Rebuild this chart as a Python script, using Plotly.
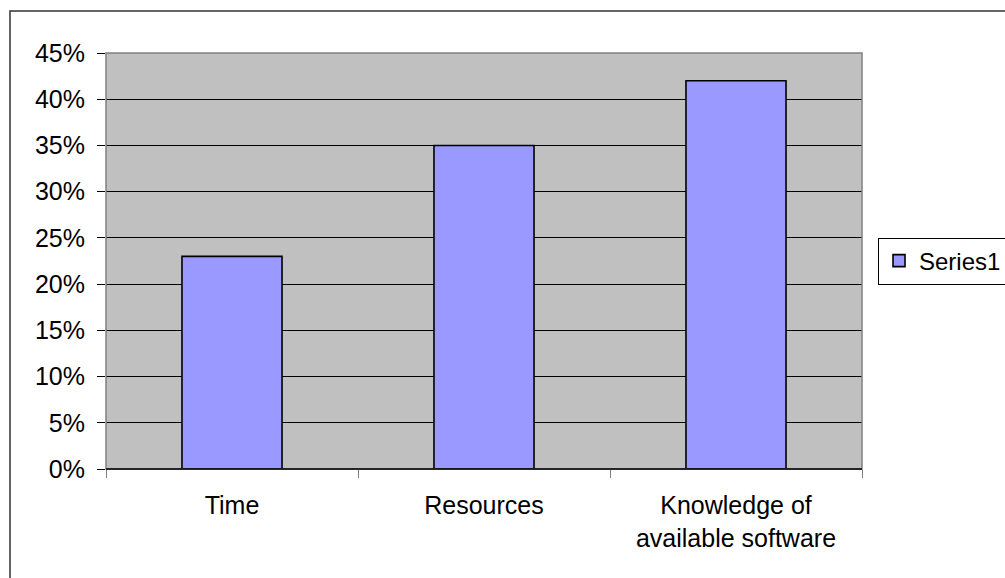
import plotly.graph_objects as go

# Chart data
categories = ["Time", "Resources", "Knowledge of<br>available software"]
values = [0.23, 0.35, 0.42]
series_name = "Series1"

FONT = "Arial, Liberation Sans, sans-serif"
W, H = 1005, 578
L, R, T, B = 106, 143, 53, 109
plot_w = W - L - R
plot_h = H - T - B

fig = go.Figure(
    go.Bar(
        x=categories,
        y=values,
        name=series_name,
        marker=dict(color="#9999FF", line=dict(color="#000000", width=1.6)),
        showlegend=True,
    )
)

fig.update_layout(
    width=W,
    height=H,
    margin=dict(l=L, r=R, t=T, b=B, autoexpand=False),
    paper_bgcolor="#FFFFFF",
    plot_bgcolor="#C0C0C0",
    bargap=0.603,
    font=dict(family=FONT, size=25, color="#000000"),
    showlegend=True,
    legend=dict(
        x=(878 - L) / plot_w,
        y=0.5,
        xanchor="left",
        yanchor="middle",
        bgcolor="#FFFFFF",
        bordercolor="#000000",
        borderwidth=1,
        font=dict(family=FONT, size=24, color="#000000"),
    ),
    xaxis=dict(
        showgrid=False,
        showline=False,
        ticks="outside",
        tickson="boundaries",
        ticklen=8,
        tickcolor="#808080",
        tickwidth=1,
        tickfont=dict(family=FONT, size=25, color="#000000"),
        ticklabelstandoff=19,
        zeroline=False,
    ),
    yaxis=dict(
        range=[0, 0.45],
        dtick=0.05,
        tick0=0,
        tickformat=".0%",
        showgrid=True,
        gridcolor="#000000",
        gridwidth=1,
        showline=False,
        zeroline=False,
        ticks="outside",
        ticklen=8,
        tickcolor="#000000",
        tickwidth=1,
        tickfont=dict(family=FONT, size=25, color="#000000"),
        ticklabelstandoff=7,
    ),
    shapes=[
        # plot area frame
        dict(type="rect", xref="paper", yref="paper", x0=0, x1=1, y0=0, y1=1,
             line=dict(color="#808080", width=1.5), layer="above"),
        # category axis baseline
        dict(type="line", xref="paper", yref="paper", x0=0, x1=1, y0=0, y1=0,
             line=dict(color="#000000", width=1.5), layer="above"),
        # outer chart border
        dict(type="rect", xref="paper", yref="paper",
             x0=(10 - L) / plot_w, x1=2.0,
             y0=-1.0, y1=1 + (T - 11) / plot_h,
             line=dict(color="#333333", width=1.5), layer="above"),
    ],
)

fig.write_html("out.html")
